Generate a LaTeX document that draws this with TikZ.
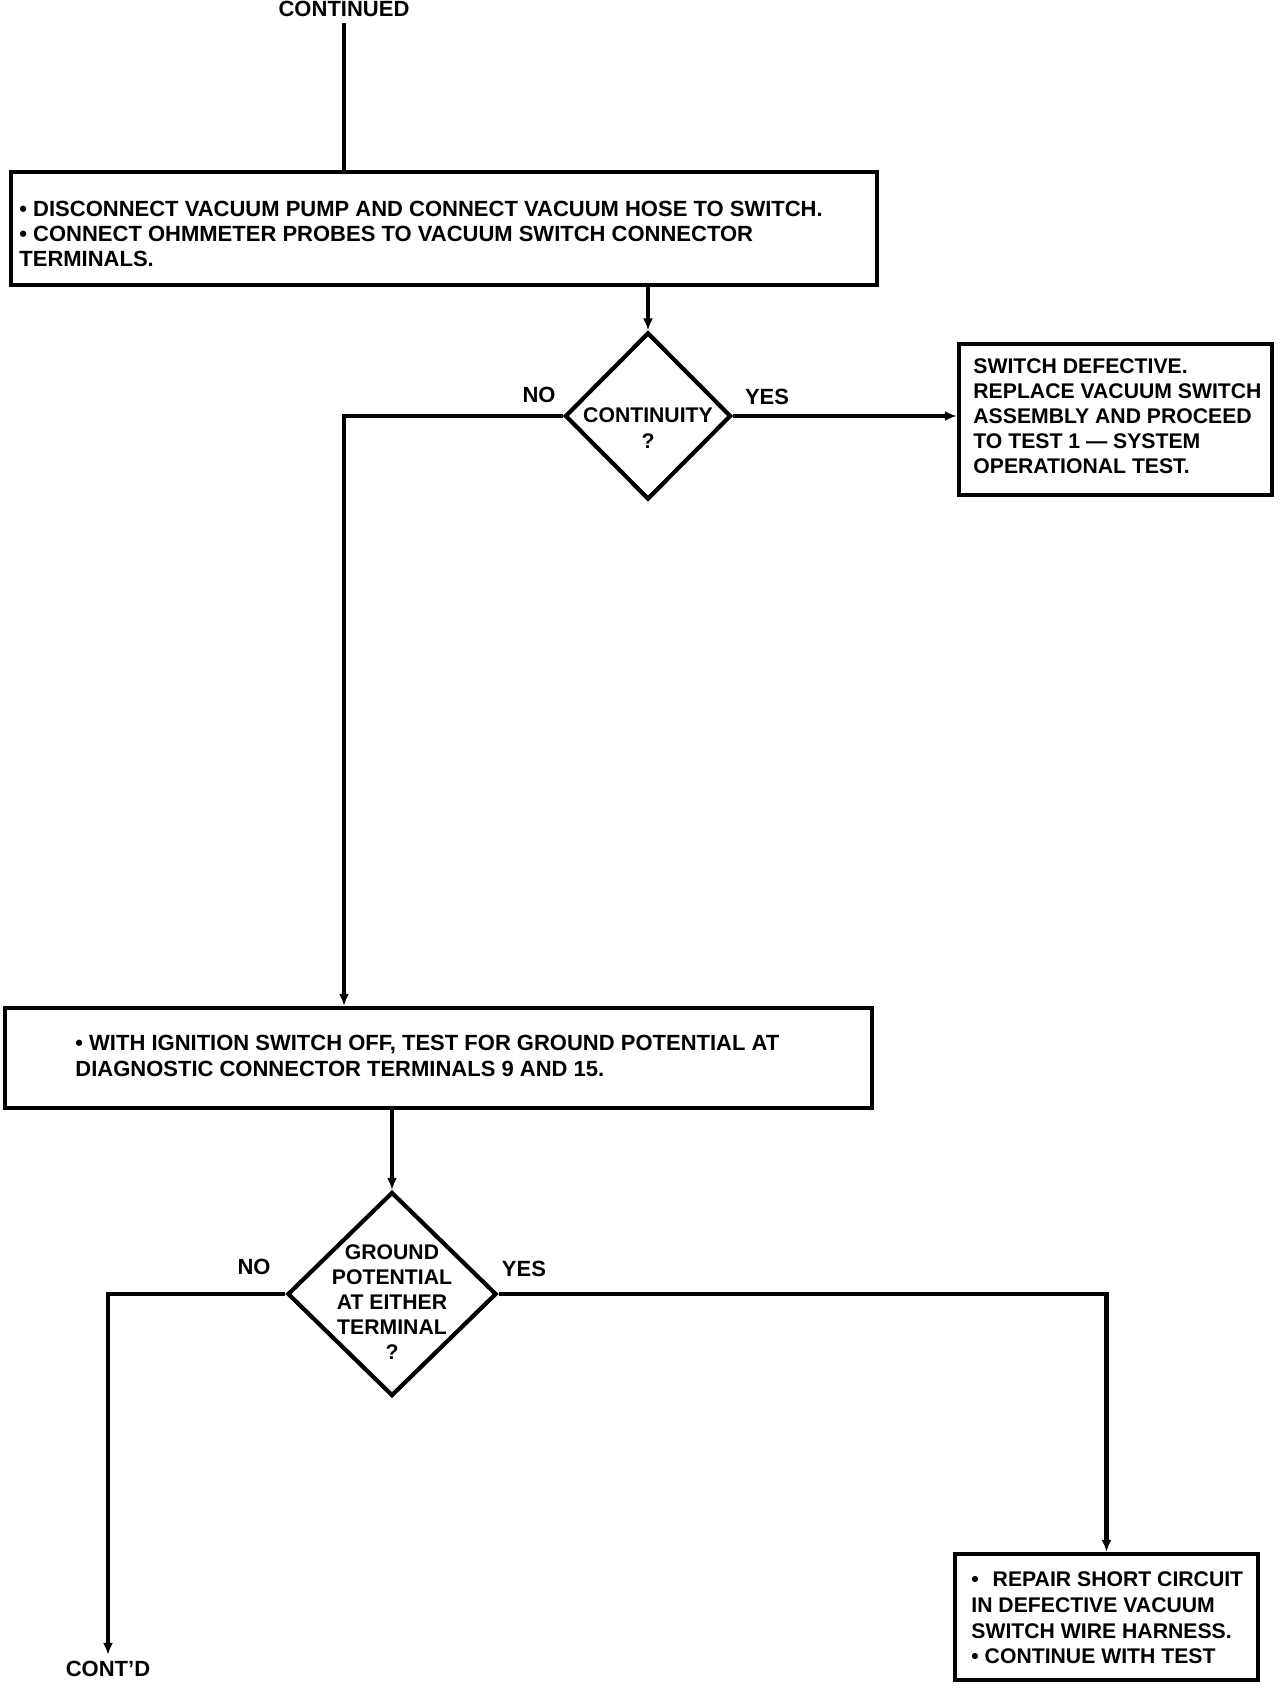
\documentclass[tikz,border=0pt]{standalone}
\usepackage{fontspec}
\setmainfont{Liberation Sans}
\usetikzlibrary{shapes.geometric,arrows.meta}
\begin{document}
\begin{tikzpicture}[x=0.5pt,y=-0.5pt,
 line/.style={line width=2.1pt},
 arr/.style={line, -{Latex[length=6pt,width=5pt]}},
 boxn/.style={draw, line width=2.1pt, rectangle, inner sep=0pt},
 dia/.style={draw, line width=2.1pt, diamond, inner sep=0pt},
 txt/.style={font=\fontsize{11}{12.6}\selectfont\bfseries, align=left, inner sep=0pt, anchor=west},
 ctxt/.style={font=\fontsize{10.6}{12.6}\selectfont\bfseries, align=center, inner sep=0pt},
 lbl/.style={font=\fontsize{11}{12.6}\selectfont\bfseries, inner sep=0pt}]
\useasboundingbox (0,0) rectangle (1280,1690);

% boxes
\node[boxn, minimum width=433pt, minimum height=56.5pt] (b1) at (444,228.5) {};
\node[boxn, minimum width=156.5pt, minimum height=75.5pt] (b2) at (1115.5,419.5) {};
\node[boxn, minimum width=433.5pt, minimum height=50pt] (b3) at (438.5,1058) {};
\node[boxn, minimum width=151.5pt, minimum height=63pt] (b4) at (1106.5,1617) {};
\node[dia, minimum width=83pt, minimum height=83.5pt] (d1) at (648,416) {};
\node[dia, minimum width=104.5pt, minimum height=102pt] (d2) at (392,1294) {};

% texts
\node[lbl] (cont) at (344,9) {CONTINUED};
\node[txt] (t1) at (19,234) {• DISCONNECT VACUUM PUMP AND CONNECT VACUUM HOSE TO SWITCH.\\• CONNECT OHMMETER PROBES TO VACUUM SWITCH CONNECTOR\\TERMINALS.};
\node[txt, font=\fontsize{10.6}{12.5}\selectfont\bfseries] (t2) at (973,416) {SWITCH DEFECTIVE.\\REPLACE VACUUM SWITCH\\ASSEMBLY AND PROCEED\\TO TEST 1 — SYSTEM\\OPERATIONAL TEST.};
\node[txt] (t3) at (75,1056) {• WITH IGNITION SWITCH OFF, TEST FOR GROUND POTENTIAL AT\\DIAGNOSTIC CONNECTOR TERMINALS 9 AND 15.};
\node[txt, font=\fontsize{10.6}{12.8}\selectfont\bfseries] (t4) at (971,1618) {•\hspace{4pt} REPAIR SHORT CIRCUIT\\IN DEFECTIVE VACUUM\\SWITCH WIRE HARNESS.\\• CONTINUE WITH TEST};
\node[ctxt] (q1) at (648,428) {CONTINUITY\\?};
\node[ctxt] (q2) at (392,1302) {GROUND\\POTENTIAL\\AT EITHER\\TERMINAL\\?};
\node[lbl] (no1) at (539,395) {NO};
\node[lbl] (yes1) at (767,397) {YES};
\node[lbl] (no2) at (254,1267) {NO};
\node[lbl] (yes2) at (524,1269) {YES};
\node[lbl] (contd) at (108,1669) {CONT'D};

% connectors
\draw[line, shorten <=3pt] (cont.south) -- (cont.south |- b1.north);
\draw[arr] (d1.north |- b1.south) -- (d1.north);
\draw[arr] (d1.east) -- (b2.west |- d1.east);
\draw[arr] (d1.west) -| (cont.south |- b3.north);
\draw[arr] (d2.north |- b3.south) -- (d2.north);
\draw[arr, shorten >=3pt] (d2.west) -| (contd.north);
\draw[arr] (d2.east) -| (b4.north);
\end{tikzpicture}
\end{document}
